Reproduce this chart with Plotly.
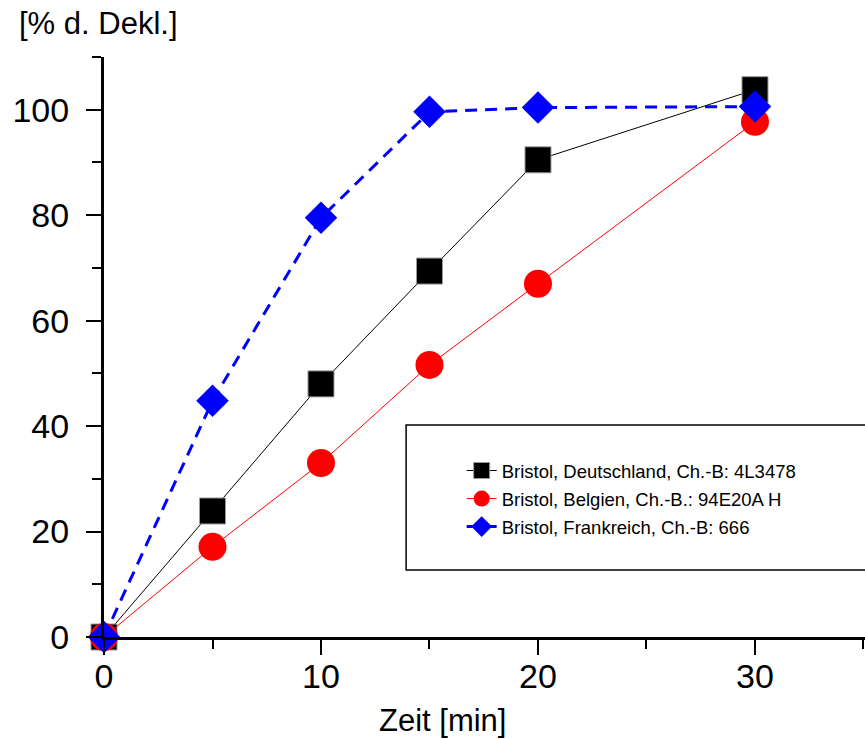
import plotly.graph_objects as go

# ---- data ----
time_min = [0, 5, 10, 15, 20, 30]
deutschland = [0, 23.9, 48.0, 69.4, 90.5, 103.8]
belgien = [0, 17.1, 33.0, 51.6, 67.0, 97.7]
frankreich = [0, 44.8, 79.5, 99.6, 100.4, 100.6]

series_names = [
    "Bristol, Deutschland, Ch.-B: 4L3478",
    "Bristol, Belgien, Ch.-B.: 94E20A H",
    "Bristol, Frankreich, Ch.-B: 666",
]
x_ticks = [0, 10, 20, 30]
y_ticks = [0, 20, 40, 60, 80, 100]

FONT = "Liberation Sans, Arial, Helvetica, sans-serif"

fig = go.Figure()
fig.add_trace(go.Scatter(
    x=time_min, y=deutschland, name=series_names[0], mode="lines+markers",
    line=dict(color="black", width=1),
    marker=dict(symbol="square", size=26, color="black",
                line=dict(color="#999999", width=1)),
    cliponaxis=False, legendgroup="a"))
fig.add_trace(go.Scatter(
    x=time_min, y=belgien, name=series_names[1], mode="lines+markers",
    line=dict(color="red", width=1),
    marker=dict(symbol="circle", size=28, color="red", line=dict(width=0)),
    cliponaxis=False, legendgroup="b"))
fig.add_trace(go.Scatter(
    x=time_min, y=frankreich, name=series_names[2], mode="lines+markers",
    line=dict(color="blue", width=3, dash="12px,8px"),
    marker=dict(symbol="diamond", size=25, color="blue", line=dict(width=0)),
    cliponaxis=False, legendgroup="c"))

axis_common = dict(
    showline=True, linecolor="black", linewidth=3, mirror=False,
    showgrid=False, zeroline=False, ticks="outside", ticklen=15, tickwidth=2,
    tickcolor="black", tickfont=dict(family=FONT, size=34, color="black"),
)
fig.update_xaxes(range=[0, 35.07], tickvals=x_ticks, ticklabelstandoff=-8,
                 minor=dict(dtick=5, tick0=5, ticks="outside", ticklen=9,
                            tickwidth=2, tickcolor="black"),
                 **axis_common)
fig.update_yaxes(range=[0, 110], tickvals=y_ticks, ticklabelstandoff=10,
                 minor=dict(dtick=10, tick0=10, ticks="outside", ticklen=9,
                            tickwidth=2, tickcolor="black"),
                 **axis_common)

# legend frame
fig.add_shape(type="rect", xref="paper", yref="paper",
              x0=0.397, x1=1.02, y0=0.1155, y1=0.3655,
              line=dict(color="black", width=1.5), fillcolor="rgba(0,0,0,0)",
              layer="below")

fig.add_annotation(text="Zeit [min]", xref="paper", yref="paper",
                   x=(442 - 104) / 761, y=(637 - 720) / 580, xanchor="center",
                   yanchor="middle", showarrow=False,
                   font=dict(family=FONT, size=31, color="black"))
fig.add_annotation(text="[% d. Dekl.]", xref="paper", yref="paper",
                   x=(17 - 104) / 761, y=(637 - 23) / 580, xanchor="left",
                   yanchor="middle", showarrow=False,
                   font=dict(family=FONT, size=31, color="black"))

fig.update_layout(
    width=865, height=739,
    margin=dict(l=104, r=0, t=57, b=102),
    paper_bgcolor="white", plot_bgcolor="white",
    font=dict(family=FONT, color="black"),
    legend=dict(x=0.47, y=0.319, xanchor="left", yanchor="top",
                bgcolor="rgba(0,0,0,0)", borderwidth=0,
                font=dict(family=FONT, size=18.5, color="black"),
                traceorder="grouped", tracegroupgap=1),
)

fig.write_html("out.html",
               config={"displayModeBar": False},
               post_script="document.body.style.margin='0px';"
                           "document.body.style.overflow='hidden';")
